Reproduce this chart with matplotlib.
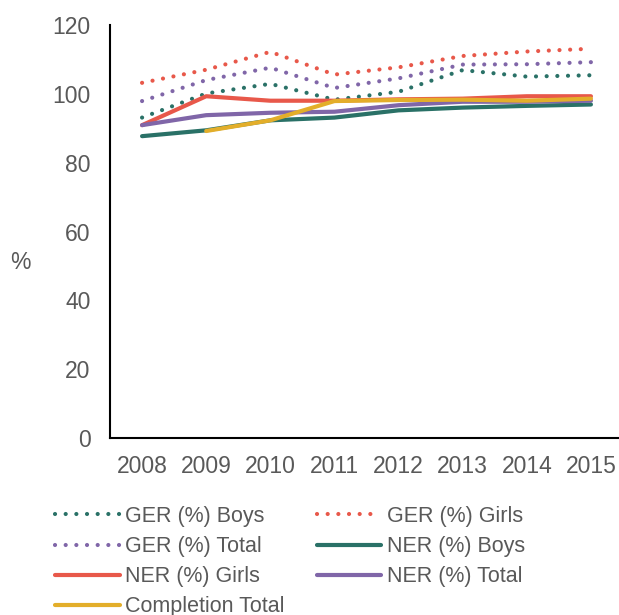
import matplotlib
matplotlib.use("Agg")
import matplotlib.pyplot as plt
import numpy as np

years = ["2008", "2009", "2010", "2011", "2012", "2013", "2014", "2015"]
ger_boys = [93.1, 100.1, 102.9, 98.3, 100.6, 106.9, 105.0, 105.4]
ger_girls = [103.2, 107.0, 112.2, 105.6, 107.7, 111.0, 112.3, 113.1]
ger_total = [97.9, 104.0, 107.6, 101.7, 104.5, 108.5, 108.6, 109.2]
ner_boys = [87.7, 89.4, 92.3, 93.1, 95.2, 96.0, 96.5, 96.9]
ner_girls = [90.9, 99.3, 98.0, 98.0, 98.4, 98.6, 99.3, 99.3]
ner_total = [90.9, 93.8, 94.5, 94.8, 96.7, 97.7, 97.7, 98.0]
completion = [np.nan, 89.2, 92.3, 97.9, 98.2, 98.3, 98.0, 98.6]

teal = "#2a7167"
red = "#e8584a"
purple = "#8066a8"
yellow = "#e3ae2a"
grey = "#595959"

plt.rcParams['font.family'] = ['Liberation Sans', 'DejaVu Sans']

fig = plt.figure(figsize=(6.19, 6.15), dpi=100)
ax = fig.add_axes([110/619, (615-438)/615, 513/619, 413/615])

x = np.arange(len(years))
dot = (0, (0.01, 2.55))
lw = 3.0
series = [
    (ger_boys, teal, dot, "GER (%) Boys"),
    (ger_girls, red, dot, "GER (%) Girls"),
    (ger_total, purple, dot, "GER (%) Total"),
    (ner_boys, teal, "-", "NER (%) Boys"),
    (ner_girls, red, "-", "NER (%) Girls"),
    (ner_total, purple, "-", "NER (%) Total"),
    (completion, yellow, "-", "Completion Total"),
]
lines = []
for vals, c, ls, lab in series:
    ln, = ax.plot(x, vals, color=c, linestyle=ls, linewidth=lw, label=lab,
                  dash_capstyle='round', solid_capstyle='round', clip_on=False)
    lines.append(ln)

ax.set_xlim(-0.5, 7.5)
ax.set_ylim(0, 120)
ax.set_yticks(range(0, 121, 20))
ax.set_xticks(x)
ax.set_xticklabels(years)
for s in ["top", "right"]:
    ax.spines[s].set_visible(False)
for s in ["left", "bottom"]:
    ax.spines[s].set_linewidth(1.5)
    ax.spines[s].set_color("black")
ax.tick_params(axis='both', length=0, labelsize=16.5, colors=grey)
ax.tick_params(axis='y', pad=14)
ax.tick_params(axis='x', pad=12)
ax.set_ylabel("%", rotation=0, fontsize=16.5, color=grey, labelpad=0, va='center')
ax.yaxis.set_label_coords(-0.175, (438-262)/413)

order = [0, 2, 4, 6, 1, 3, 5]
leg = fig.legend([lines[i] for i in order], [series[i][3] for i in order],
                 loc="upper left", bbox_to_anchor=(55/619, 1 - 506/615), ncol=2,
                 frameon=False, fontsize=15.5, handlelength=3.0, handletextpad=0.25,
                 columnspacing=1.5, labelspacing=0.42, borderpad=0, borderaxespad=0)
for t in leg.get_texts():
    t.set_color(grey)

fig.savefig("out.png", dpi=100)
